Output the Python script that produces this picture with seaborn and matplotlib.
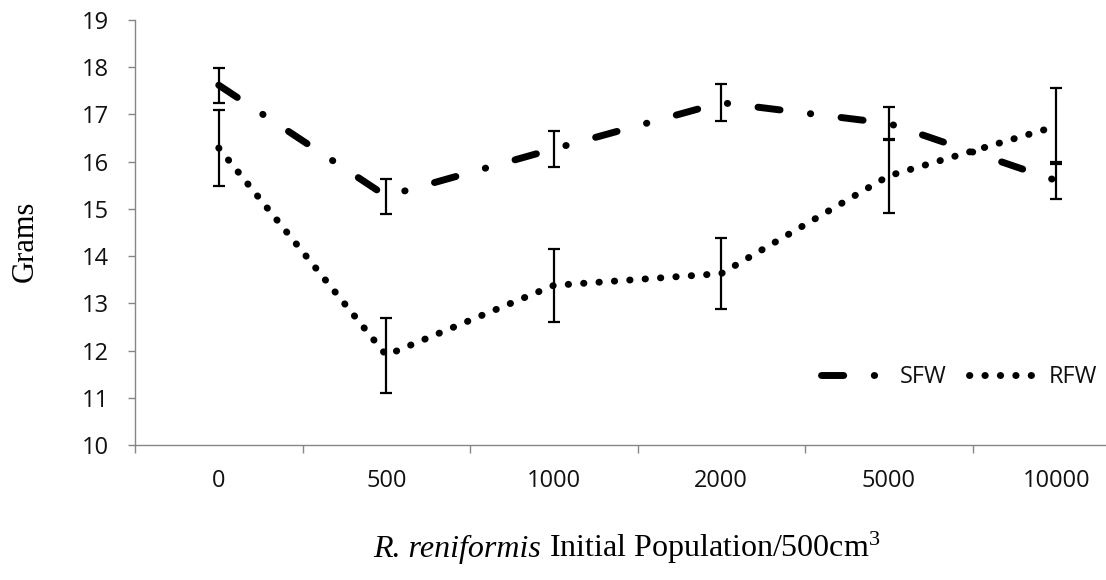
import numpy as np
import pandas as pd
import matplotlib
matplotlib.use("Agg")
import matplotlib.pyplot as plt
import seaborn as sns

# ---- data ----
categories = ["0", "500", "1000", "2000", "5000", "10000"]
sfw = [17.62, 15.27, 16.27, 17.25, 16.81, 15.60]
sfw_err = [0.37, 0.37, 0.38, 0.39, 0.35, 0.40]
rfw = [16.29, 11.90, 13.38, 13.63, 15.70, 16.75]
rfw_err = [0.80, 0.79, 0.78, 0.76, 0.78, 0.80]
yticks = [10, 11, 12, 13, 14, 15, 16, 17, 18, 19]
series_names = ["SFW", "RFW"]
xlabel_italic = "R. reniformis"
xlabel_rest = "Initial Population/500cm$^3$"
ylabel = "Grams"

sns.set_style("white")
plt.rcParams["font.family"] = ["Open Sans", "DejaVu Sans"]
plt.rcParams["mathtext.fontset"] = "custom"
plt.rcParams["mathtext.rm"] = "Liberation Serif"
plt.rcParams["mathtext.it"] = "Liberation Serif:italic"

pos = np.arange(len(categories))
df = pd.DataFrame({
    "pos": np.concatenate([pos, pos]),
    "value": sfw + rfw,
    "series": [series_names[0]] * len(categories) + [series_names[1]] * len(categories),
})

W, H = 1106, 580
fig = plt.figure(figsize=(W / 100, H / 100), dpi=100)
ax = fig.add_axes([135 / W, 1 - 445 / H, 1005 / W, 425 / H])

lw = 5.0
sns.lineplot(data=df, x="pos", y="value", hue="series", style="series",
             palette={"SFW": "black", "RFW": "black"},
             dashes={"SFW": (3.2, 4.4, 0.05, 4.4), "RFW": (0.05, 2.17)},
             linewidth=lw, legend=False, ax=ax, zorder=2)
line_handles = list(ax.get_lines())
for ln in line_handles:
    ln.set_dash_capstyle("round")
    ln.set_solid_capstyle("round")
    ln.set_linewidth(lw)

ax.errorbar(pos, sfw, yerr=sfw_err, fmt="none", ecolor="black",
            elinewidth=1.6, capsize=4.3, capthick=1.6, zorder=3)
ax.errorbar(pos, rfw, yerr=rfw_err, fmt="none", ecolor="black",
            elinewidth=1.6, capsize=4.3, capthick=1.6, zorder=3)

ax.set_xlim(-0.5, len(categories) - 0.5)
ax.set_ylim(yticks[0], yticks[-1])
ax.set_yticks(yticks)
ax.set_xticks(pos)
ax.set_xticklabels(categories)
ax.set_xticks(np.arange(len(categories) + 1) - 0.5, minor=True)
ax.set_xlabel("")

spine_col = "#868686"
for s in ["top", "right"]:
    ax.spines[s].set_visible(False)
for s in ["left", "bottom"]:
    ax.spines[s].set_color(spine_col)
    ax.spines[s].set_linewidth(1.0)

ax.tick_params(axis="y", which="major", direction="out", length=5, width=1,
               color=spine_col, pad=13.5, labelcolor="#111111", left=True,
               labelsize=17)
ax.tick_params(axis="x", which="major", length=0, pad=17.5, labelcolor="#111111",
               labelsize=17)
ax.tick_params(axis="x", which="minor", direction="out", length=6, width=1,
               color=spine_col, bottom=True)

ax.set_ylabel(ylabel, fontfamily="Liberation Serif", fontsize=22, color="black")
ax.yaxis.set_label_coords((40 - 135) / 1005, (445 - 241.5) / 425)

leg = ax.legend(line_handles, series_names, ncol=2, frameon=False,
                loc="center left", bbox_to_anchor=(821 / W, 1 - 377 / H),
                bbox_transform=fig.transFigure, borderpad=0, borderaxespad=0,
                handlelength=2.85, handletextpad=0.5, columnspacing=0.95,
                prop={"family": "Open Sans", "size": 17})
for t in leg.get_texts():
    t.set_color("#111111")

# x label in two pieces (italic species name + roman remainder)
lab_kw = dict(fontfamily="Liberation Serif", fontsize=23, color="black",
              va="baseline", ha="left")
yb = 1 - 557 / H
cx = 627
fig.canvas.draw()
r = fig.canvas.get_renderer()
t1 = fig.text(0, yb, xlabel_italic, fontstyle="italic", **lab_kw)
t2 = fig.text(0, yb, xlabel_rest, **lab_kw)
tmp_a = fig.text(0, 0, "aa", **lab_kw)
tmp_b = fig.text(0, 0, "a a", **lab_kw)
sp = tmp_b.get_window_extent(r).width - tmp_a.get_window_extent(r).width
tmp_a.remove()
tmp_b.remove()
w1 = t1.get_window_extent(r).width
w2 = t2.get_window_extent(r).width
x0 = cx - (w1 + sp + w2) / 2
t1.set_x(x0 / W)
t2.set_x((x0 + w1 + sp) / W)

fig.savefig("out.png", dpi=100)
